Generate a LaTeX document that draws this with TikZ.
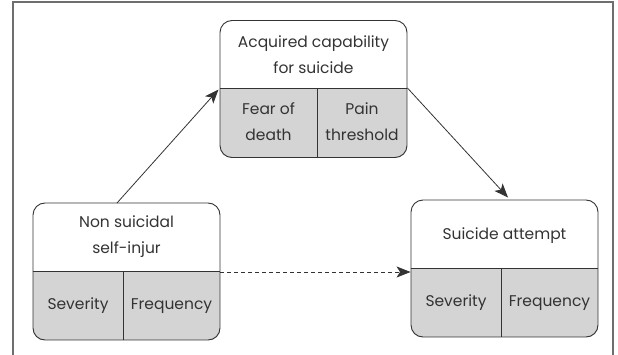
\documentclass[tikz,border=0pt]{standalone}
\usepackage{fontspec}
\setmainfont{Poppins}
\usetikzlibrary{arrows.meta,backgrounds}
\definecolor{cellgray}{HTML}{D4D4D4}
\definecolor{inkc}{HTML}{333333}
\definecolor{framec}{HTML}{6E6E6E}
\begin{document}
\begin{tikzpicture}[x=1pt,y=-1pt,
  boxframe/.style={draw=inkc, line width=0.9pt, rounded corners=12pt, inner sep=0pt, minimum width=187pt, minimum height=137pt},
  lbl/.style={text=inkc, font=\fontsize{15.5}{26}\selectfont, align=center, inner sep=0pt},
  arr/.style={draw=inkc, line width=0.8pt, -{Stealth[length=14pt,width=11pt,inset=3.5pt]}},
  divl/.style={draw=inkc, line width=0.9pt}]
\useasboundingbox (0,0) rectangle (618,355);
\draw[framec, line width=1.5pt] (13,355) -- (13,2) -- (613,2) -- (613,355);

% boxes
\node[boxframe] (T) at (313.5,89) {};
\node[boxframe] (L) at (126.5,271.5) {};
\node[boxframe] (R) at (504.5,268.5) {};

% dividers
\coordinate (Tdl) at (T.west |- 0,88);
\coordinate (Tdr) at (T.east |- 0,88);
\coordinate (Ldl) at (L.west |- 0,271);
\coordinate (Ldr) at (L.east |- 0,271);
\coordinate (Rdl) at (R.west |- 0,268);
\coordinate (Rdr) at (R.east |- 0,268);
\coordinate (Tvm) at (317,88);
\coordinate (Lvm) at (123,271);
\coordinate (Rvm) at (501,268);

\begin{pgfonlayer}{background}
  \begin{scope}
    \clip[rounded corners=12pt] (T.south west) rectangle (T.north east);
    \fill[cellgray] (T.south west) rectangle (Tdr);
  \end{scope}
  \begin{scope}
    \clip[rounded corners=12pt] (L.south west) rectangle (L.north east);
    \fill[cellgray] (L.south west) rectangle (Ldr);
  \end{scope}
  \begin{scope}
    \clip[rounded corners=12pt] (R.south west) rectangle (R.north east);
    \fill[cellgray] (R.south west) rectangle (Rdr);
  \end{scope}
\end{pgfonlayer}

\draw[divl] (Tdl) -- (Tdr);
\draw[divl] (Tvm) -- (Tvm |- T.south);
\draw[divl] (Ldl) -- (Ldr);
\draw[divl] (Lvm) -- (Lvm |- L.south);
\draw[divl] (Rdl) -- (Rdr);
\draw[divl] (Rvm) -- (Rvm |- R.south);

% labels
\node[lbl] (Tt) at (313.5,55) {Acquired capability\\for suicide};
\node[lbl] (Tl) at (268.5,122) {Fear of\\death};
\node[lbl] (Tr) at (362,122) {Pain\\threshold};
\node[lbl] (Lt) at (126.5,237) {Non suicidal\\self-injur};
\node[lbl] (Ll) at (78,306) {Severity};
\node[lbl] (Lr) at (171.5,306) {Frequency};
\node[lbl] (Rt) at (504.5,236) {Suicide attempt};
\node[lbl] (Rl) at (456,303) {Severity};
\node[lbl] (Rr) at (549.5,303) {Frequency};

% connectors
\coordinate (Lstart) at (117,203);
\coordinate (Tend) at (218.5,89.5);
\coordinate (Rend) at (508,197.5);
\coordinate (Dstart) at (220,272);
\draw[arr] (Lstart) -- (Tend);
\draw[arr] (Tdr) -- (Rend);
\draw[arr, dash pattern=on 4pt off 3pt] (Dstart) -- (Rdl |- Dstart);
\end{tikzpicture}
\end{document}
